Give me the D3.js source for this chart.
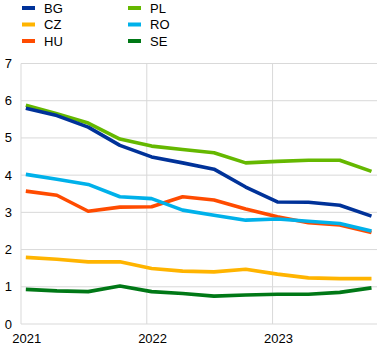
<!DOCTYPE html>
<html><head><meta charset="utf-8">
<script src="https://cdn.jsdelivr.net/npm/d3@7"></script>
<style>body{margin:0;background:#fff}svg{display:block;font-family:"Liberation Sans",Arial,sans-serif}</style>
</head><body><svg id="c" width="388" height="350"></svg>
<script>
const dates = ["2021-01-15","2021-04-15","2021-07-15","2021-10-15","2022-01-15","2022-04-15","2022-07-15","2022-10-15","2023-01-15","2023-04-15","2023-07-15","2023-10-15"];
const BG = [5.8,5.6,5.29,4.8,4.49,4.33,4.16,3.68,3.28,3.27,3.19,2.9];
const CZ = [1.79,1.74,1.67,1.67,1.49,1.42,1.4,1.47,1.34,1.24,1.22,1.22];
const HU = [3.57,3.46,3.03,3.14,3.15,3.42,3.33,3.09,2.88,2.72,2.66,2.46];
const PL = [5.88,5.65,5.4,4.97,4.78,4.69,4.6,4.33,4.37,4.4,4.4,4.1];
const RO = [4.02,3.89,3.75,3.42,3.37,3.06,2.92,2.79,2.82,2.76,2.7,2.5];
const SE = [0.93,0.89,0.87,1.02,0.87,0.82,0.75,0.78,0.8,0.8,0.85,0.97];
const seriesNames = ["BG","CZ","HU","PL","RO","SE"];
const colors = ["#003299","#ffb400","#ff4b00","#65b800","#00b1ea","#007816"];
const yTicks = [0,1,2,3,4,5,6,7];
const yearTicks = ["2021","2022","2023"];

const values = {BG,CZ,HU,PL,RO,SE};
const parse = d3.timeParse("%Y-%m-%d");
const X = dates.map(parse);
const svg = d3.select("#c");
const x = d3.scaleTime().domain([parse("2021-01-01"), parse("2023-10-31")]).range([21, 377]);
const y = d3.scaleLinear().domain([0,7]).range([324, 63.5]);

// gridlines
svg.append("g").selectAll("line").data(yTicks).join("line")
  .attr("x1",21).attr("x2",377).attr("y1",d=>y(d)).attr("y2",d=>y(d))
  .attr("stroke","#d9d9d9").attr("stroke-width",1);
svg.append("g").selectAll("line").data(yearTicks).join("line")
  .attr("x1",d=>x(parse(d+"-01-01"))).attr("x2",d=>x(parse(d+"-01-01")))
  .attr("y1",y(7)).attr("y2",y(0))
  .attr("stroke","#d9d9d9").attr("stroke-width",1);

// y labels
svg.append("g").selectAll("text").data(yTicks).join("text")
  .attr("x",12).attr("y",d=>y(d)).attr("dy","0.35em").attr("text-anchor","end")
  .attr("font-size",13).attr("fill","#000").text(d=>d);
// x labels
svg.append("g").selectAll("text").data(yearTicks).join("text")
  .attr("x",d=>x(parse(d+"-01-15"))+1).attr("y",343).attr("text-anchor","middle")
  .attr("font-size",13).attr("fill","#000").text(d=>d);

// lines
const line = d3.line().x((d,i)=>x(X[i])).y(d=>y(d));
const order = ["SE","CZ","HU","RO","PL","BG"];
svg.append("g").selectAll("path").data(order).join("path")
  .attr("d",k=>line(values[k])).attr("fill","none")
  .attr("stroke",k=>colors[seriesNames.indexOf(k)]).attr("stroke-width",3.6)
  .attr("stroke-linejoin","round").attr("stroke-linecap","butt");

// legend
const lg = svg.append("g");
seriesNames.forEach((k,i)=>{
  const col = Math.floor(i/3), row = i%3;
  const gx = 22 + col*106, gy = 8 + row*16.5;
  lg.append("rect").attr("x",gx).attr("y",gy-2).attr("width",13).attr("height",4).attr("fill",colors[i]);
  lg.append("text").attr("x",gx+22).attr("y",gy).attr("dy","0.35em").attr("font-size",13).attr("fill","#000").text(k);
});
</script></body></html>
